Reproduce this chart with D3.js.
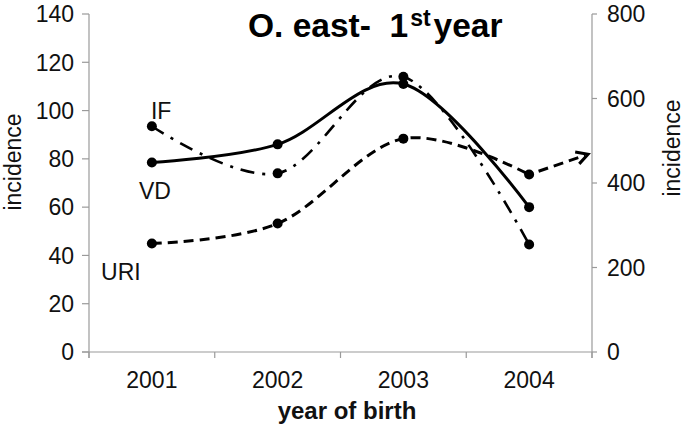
<!DOCTYPE html>
<html>
<head>
<meta charset="utf-8">
<script src="https://cdn.jsdelivr.net/npm/d3@7"></script>
<style>
  html, body { margin: 0; padding: 0; background: #fff; }
  svg { display: block; font-family: "Liberation Sans", Arial, Helvetica, sans-serif; }
</style>
</head>
<body>
<svg id="chart" width="685" height="425"></svg>
<script>
// ---- data ----
const years = ["2001", "2002", "2003", "2004"];
const ifValues = [93.5, 74, 114, 44.5];      // left axis, dash-dot
const vdValues = [78.5, 86, 111, 60];        // left axis, solid
const uriValues = [257, 304, 505, 420];      // right axis, dashed
const uriArrowTarget = 468;                  // right axis value the URI arrow points to
const leftTicks = [0, 20, 40, 60, 80, 100, 120, 140];
const rightTicks = [0, 200, 400, 600, 800];
const seriesNames = ["IF", "VD", "URI"];

// ---- layout ----
const svg = d3.select("#chart");
const L = 89, R = 592, T = 14, B = 352;
const axisColor = "#9a9a9a";
const fs = 23;

const x = d3.scaleBand().domain(years).range([L, R]);
const xc = d => x(d) + x.bandwidth() / 2;
const yL = d3.scaleLinear().domain([0, 140]).range([B, T]);
const yR = d3.scaleLinear().domain([0, 800]).range([B, T]);

// ---- axes ----
const gx = svg.append("g").attr("transform", `translate(0,${B})`);
gx.append("line").attr("x1", L - 7).attr("x2", R).attr("y1", 0).attr("y2", 0).attr("stroke", axisColor).attr("stroke-width", 1.2);
const bounds = years.map(y => x(y)).concat([R]);
gx.selectAll("line.tk").data(bounds).enter().append("line")
  .attr("x1", d => d).attr("x2", d => d).attr("y1", 0).attr("y2", 6)
  .attr("stroke", axisColor).attr("stroke-width", 1.2);
gx.selectAll("text").data(years).enter().append("text")
  .attr("x", d => xc(d)).attr("y", 36).attr("text-anchor", "middle")
  .attr("font-size", fs).attr("fill", "#111").text(d => d);

const gl = svg.append("g");
gl.append("line").attr("x1", L).attr("x2", L).attr("y1", T).attr("y2", B + 6).attr("stroke", axisColor).attr("stroke-width", 1.2);
gl.selectAll("line.tk").data(leftTicks).enter().append("line")
  .attr("x1", L - 7).attr("x2", L).attr("y1", d => yL(d)).attr("y2", d => yL(d))
  .attr("stroke", axisColor).attr("stroke-width", 1.2);
gl.selectAll("text").data(leftTicks).enter().append("text")
  .attr("x", L - 15).attr("y", d => yL(d)).attr("dy", "0.36em").attr("text-anchor", "end")
  .attr("font-size", fs).attr("fill", "#111").text(d => d);

const gr = svg.append("g");
gr.append("line").attr("x1", R).attr("x2", R).attr("y1", T).attr("y2", B + 6).attr("stroke", axisColor).attr("stroke-width", 1.2);
gr.selectAll("line.tk").data(rightTicks).enter().append("line")
  .attr("x1", R).attr("x2", R + 5).attr("y1", d => yR(d)).attr("y2", d => yR(d))
  .attr("stroke", axisColor).attr("stroke-width", 1.2);
gr.selectAll("text").data(rightTicks).enter().append("text")
  .attr("x", R + 15).attr("y", d => yR(d)).attr("dy", "0.36em").attr("text-anchor", "start")
  .attr("font-size", fs).attr("fill", "#111").text(d => d);

// axis titles
svg.append("text").attr("transform", `translate(21,162) rotate(-90)`)
  .attr("text-anchor", "middle").attr("font-size", fs).attr("fill", "#111").text("incidence");
svg.append("text").attr("transform", `translate(680,148) rotate(-90)`)
  .attr("text-anchor", "middle").attr("font-size", fs).attr("fill", "#111").text("incidence");
svg.append("text").attr("x", 347).attr("y", 419).attr("text-anchor", "middle")
  .attr("font-size", 24).attr("font-weight", "bold").attr("fill", "#111").text("year of birth");

// title
const title = svg.append("text").attr("x", 248).attr("y", 37)
  .attr("font-size", 33.5).attr("font-weight", "bold").attr("fill", "#000")
  .style("white-space", "pre");
title.append("tspan").text("O. east-  1");
title.append("tspan").attr("font-size", 23).attr("dy", -11).attr("dx", 2).text("st");
title.append("tspan").attr("dy", 11).attr("dx", 3).text("year");

// ---- series ----
const curve = d3.curveCardinal.tension(0);
const lineL = d3.line().x((d, i) => xc(years[i])).y(d => yL(d)).curve(curve);
const lineR = d3.line().x((d, i) => xc(years[i])).y(d => yR(d)).curve(curve);

svg.append("path").attr("d", lineL(ifValues)).attr("fill", "none").attr("stroke", "#000")
  .attr("stroke-width", 2.6).attr("stroke-dasharray", "14,8,3,8");
svg.append("path").attr("d", lineL(vdValues)).attr("fill", "none").attr("stroke", "#000")
  .attr("stroke-width", 3);
svg.append("path").attr("d", lineR(uriValues)).attr("fill", "none").attr("stroke", "#000")
  .attr("stroke-width", 3).attr("stroke-dasharray", "10,6");

// URI arrow toward right axis
const ax0 = xc(years[3]), ay0 = yR(uriValues[3]);
const ax1 = R - 4, ay1 = yR(uriArrowTarget);
const ang = Math.atan2(ay1 - ay0, ax1 - ax0);
const sx = ax0 + 10 * Math.cos(ang), sy = ay0 + 10 * Math.sin(ang);
svg.append("line").attr("x1", sx).attr("y1", sy).attr("x2", ax1 - 3 * Math.cos(ang)).attr("y2", ay1 - 3 * Math.sin(ang))
  .attr("stroke", "#000").attr("stroke-width", 3).attr("stroke-dasharray", "10,6");
const hl = 13, hw = 0.5;
svg.append("path")
  .attr("d", `M${ax1 - hl * Math.cos(ang - hw)},${ay1 - hl * Math.sin(ang - hw)} L${ax1},${ay1} L${ax1 - hl * Math.cos(ang + hw)},${ay1 - hl * Math.sin(ang + hw)}`)
  .attr("fill", "none").attr("stroke", "#000").attr("stroke-width", 3).attr("stroke-linejoin", "miter");

// dots
const dot = (vals, sc) => svg.append("g").selectAll("circle").data(vals).enter().append("circle")
  .attr("cx", (d, i) => xc(years[i])).attr("cy", d => sc(d)).attr("r", 5).attr("fill", "#000");
dot(ifValues, yL);
dot(vdValues, yL);
dot(uriValues, yR);

// series labels near first points
const x0 = xc(years[0]);
svg.append("text").attr("x", x0 - 1).attr("y", yL(ifValues[0]) - 7).attr("font-size", fs).attr("fill", "#111").text(seriesNames[0]);
svg.append("text").attr("x", x0 + 3).attr("y", yL(vdValues[0]) + 37).attr("text-anchor", "middle").attr("font-size", fs).attr("fill", "#111").text(seriesNames[1]);
svg.append("text").attr("x", x0 - 31).attr("y", yR(uriValues[0]) + 37).attr("text-anchor", "middle").attr("font-size", fs).attr("fill", "#111").text(seriesNames[2]);
</script>
</body>
</html>
